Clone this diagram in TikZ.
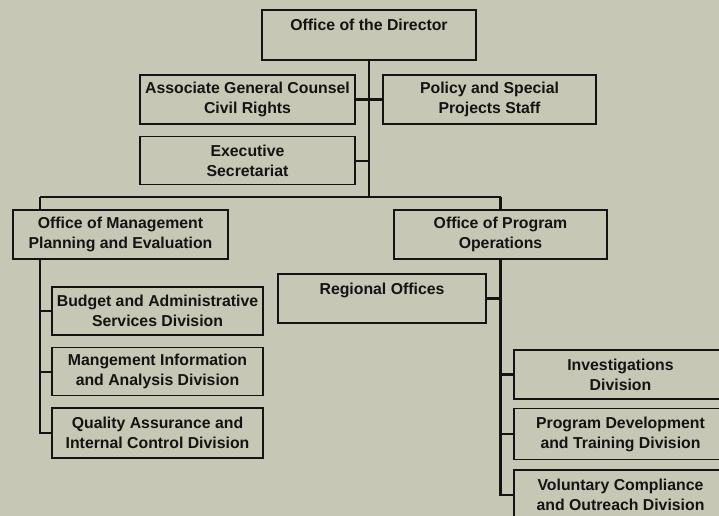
\documentclass[tikz,border=0pt]{standalone}
\usepackage{fontspec}
\setmainfont{Liberation Sans}
\usetikzlibrary{positioning}
\definecolor{PaperGray}{HTML}{C6C7B4}
\definecolor{InkBlack}{HTML}{141414}
\tikzset{
  orgbox/.style={draw=InkBlack, line width=1.4pt, fill=PaperGray, align=center, minimum width=#1, minimum height=1.47cm, inner sep=0pt, font=\bfseries\fontsize{13.5}{17}\selectfont, text=InkBlack},
  link/.style={draw=InkBlack, line width=1.8pt}
}
\begin{document}
\begin{tikzpicture}[x=0.3mm, y=-0.3mm]
\useasboundingbox (0,0) rectangle (719,516);
\clip (0,0) rectangle (719,516);
\fill[PaperGray] (0,0) rectangle (719,516);
% top level
\node[orgbox=6.42cm, minimum height=1.5cm] (dir) at (369,35) {Office of the Director\\\mbox{}};
\node[orgbox=6.45cm] (agc) at (247.5,99.5) {Associate General Counsel\\Civil Rights};
\node[orgbox=6.39cm] (pol) at (489.5,99.5) {Policy and Special\\Projects Staff};
\node[orgbox=6.45cm, minimum height=1.44cm, below=0.33cm of agc] (exec) {Executive\\Secretariat};
% offices
\node[orgbox=6.45cm] (ompe) at (120.5,234.5) {Office of Management\\Planning and Evaluation};
\node[orgbox=6.39cm] (opo) at (500.5,234.5) {Office of Program\\Operations};
% management divisions
\node[orgbox=6.33cm, minimum height=1.44cm] (budget) at (157.5,311) {Budget and Administrative\\Services Division};
\node[orgbox=6.33cm, minimum height=1.44cm, below=0.33cm of budget] (mia) {Mangement Information\\and Analysis Division};
\node[orgbox=6.33cm, minimum height=1.5cm, below=0.33cm of mia] (qa) {Quality Assurance and\\Internal Control Division};
% program divisions
\node[orgbox=6.24cm] (reg) at (382,298.5) {Regional Offices\\\mbox{}};
\node[orgbox=6.39cm] (inv) at (620.5,374.5) {Investigations\\Division};
\node[orgbox=6.39cm, minimum height=1.53cm, below=0.24cm of inv] (pd) {Program Development\\and Training Division};
\node[orgbox=6.39cm, below=0.27cm of pd] (vc) {Voluntary Compliance\\and Outreach Division};
\coordinate (hub) at (369,197);
\coordinate (lbus) at (40,197);
\coordinate (rbus) at (500.5,197);
\draw[link] (dir.south) -- (hub);
\draw[link] (agc.east) -- (pol.west);
\draw[link] (exec.east) -- (exec.east -| hub);
\draw[link] (lbus) -- (rbus);
\draw[link] (lbus) -- (lbus |- ompe.north);
\draw[link] (rbus) -- (opo.north);
\draw[link] (lbus |- ompe.south) |- (qa.west);
\foreach \d in {budget, mia}
  \draw[link] (\d.west) -- (\d.west -| lbus);
\draw[link] (opo.south) |- (vc.west);
\draw[link] (reg.east) -- (reg.east -| opo.south);
\foreach \d in {inv, pd}
  \draw[link] (\d.west) -- (\d.west -| opo.south);
\end{tikzpicture}
\end{document}
